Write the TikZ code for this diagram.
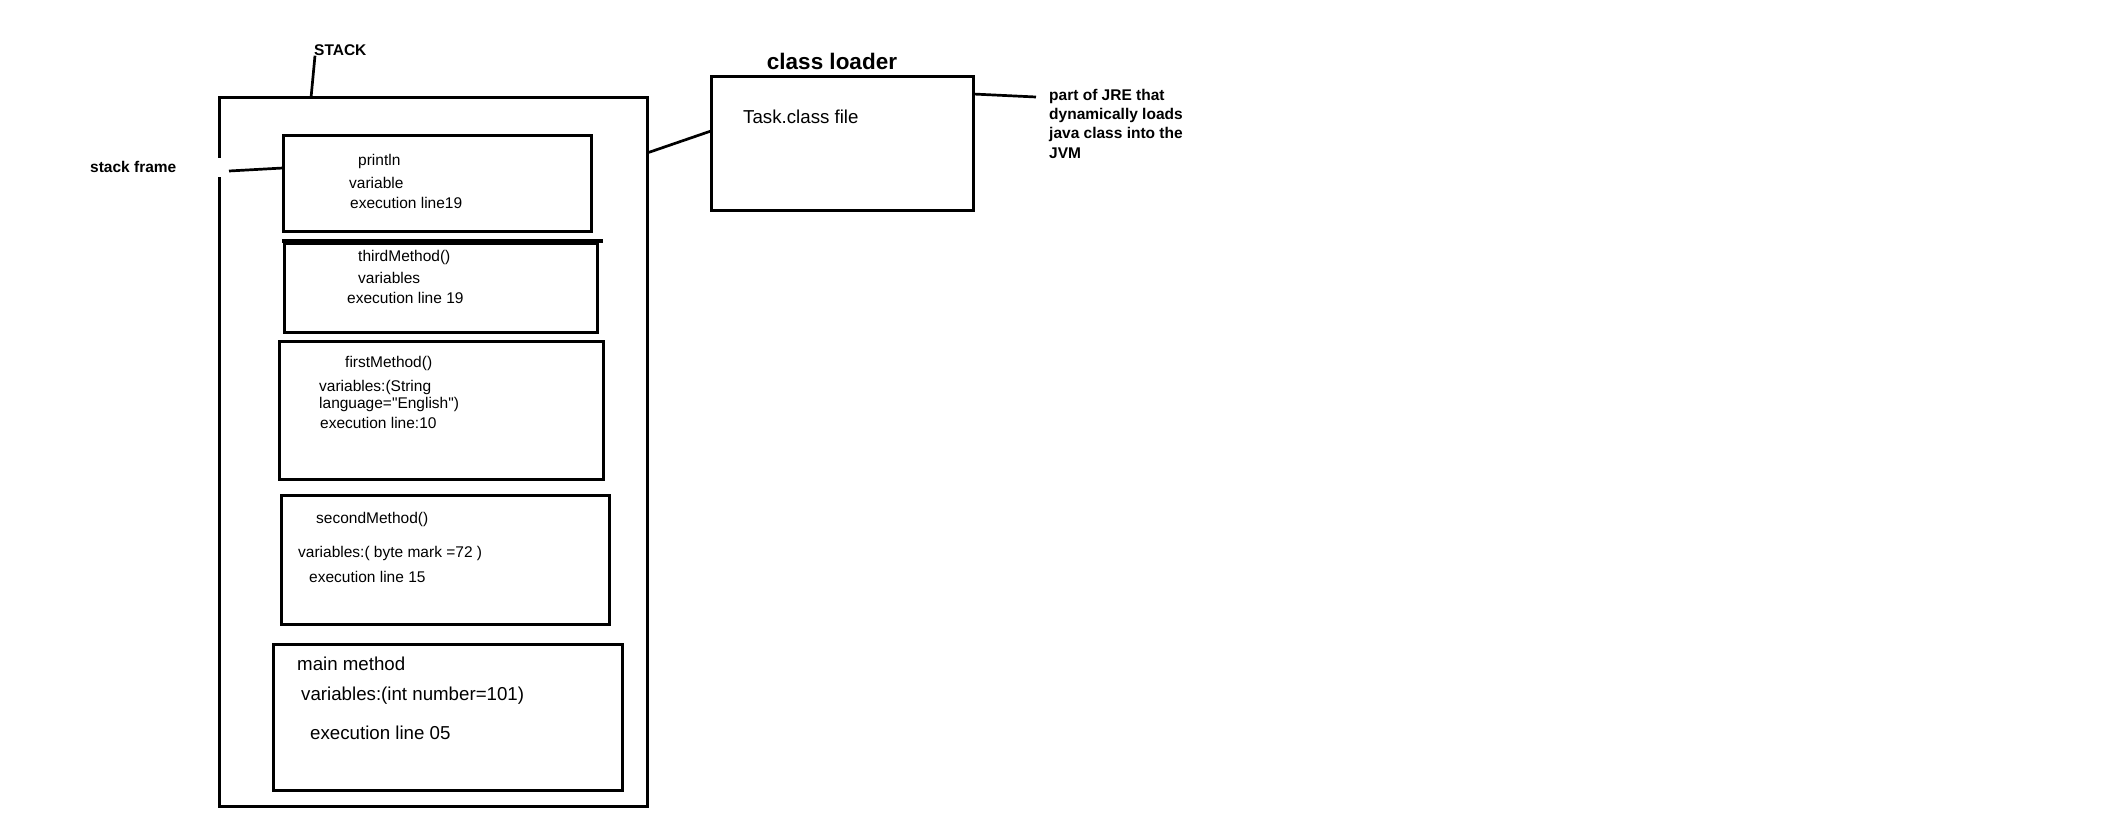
\documentclass[tikz,border=0pt]{standalone}
\usepackage{fontspec}
\setmainfont{Liberation Sans}

\tikzstyle{frame}=[draw, line width=3pt, anchor=north west, inner sep=0pt, outer sep=0pt]
\tikzstyle{txt}=[anchor=west, inner sep=0pt, font=\fontsize{15.5}{18}\selectfont]
\tikzstyle{bigtxt}=[anchor=west, inner sep=0pt, font=\fontsize{18.7}{22}\selectfont]
\tikzstyle{lbl}=[anchor=west, inner sep=0pt, font=\bfseries\fontsize{15.5}{19}\selectfont]
\tikzstyle{link}=[line width=2.7pt]

\begin{document}
\begin{tikzpicture}[x=1pt, y=-1pt]
  \useasboundingbox (0,0) rectangle (2110,840);
  % stack with its frames
  \node[frame, minimum width=428pt, minimum height=708pt] (stack) at (219,98) {};
  \node[frame, minimum width=308pt, minimum height=95pt] (println) at (283,136) {};
  \node[frame, minimum width=313pt, minimum height=89pt] (third) at (284,243) {};
  \node[frame, minimum width=324pt, minimum height=138pt] (first) at (279,341) {};
  \node[frame, minimum width=328pt, minimum height=129pt] (second) at (281,495) {};
  \node[frame, minimum width=349pt, minimum height=146pt] (mainm) at (273,644) {};
  \fill[white] (214,158) rectangle (224,177);
  \draw[link, line width=3.2pt] ([xshift=-2pt, yshift=2pt]third.north west) -- ([xshift=6pt, yshift=2pt]third.north east);

  \foreach \x/\y/\t [count=\i] in {358/161/println, 349/183/variable, 350/203/execution line19} {%
    \node[txt] (println\i) at (\x,\y) {\t};
  }
  \foreach \x/\y/\t [count=\i] in {358/257/thirdMethod(), 358/278/variables, 347/298/execution line 19} {%
    \node[txt] (third\i) at (\x,\y) {\t};
  }
  \foreach \x/\y/\t [count=\i] in {345/363/firstMethod(), 319/387/variables:(String, 319/404/language=\textquotedbl English\textquotedbl), 320/423/execution line:10} {%
    \node[txt] (first\i) at (\x,\y) {\t};
  }
  \foreach \x/\y/\t [count=\i] in {316/519/secondMethod(), 298/553/variables:( byte mark =72 ), 309/577/execution line 15} {%
    \node[txt] (second\i) at (\x,\y) {\t};
  }
  \foreach \x/\y/\t [count=\i] in {297/664/main method, 301/696/variables:(int number=101), 310/733/execution line 05} {%
    \node[bigtxt] (mainm\i) at (\x,\y) {\t};
  }

  % labels of the stack
  \node[lbl] (stacklbl) at (314,50) {STACK};
  \node[lbl] (framelbl) at (90,167) {stack frame};
  \coordinate (stacktop) at (311,98);
  \coordinate (frameend) at (229,171);
  \draw[link] ([xshift=1pt]stacklbl.south west) -- (stacktop);
  \draw[link] (frameend) -- ([yshift=-32pt]println.north west);

  % class loader
  \node[frame, minimum width=262pt, minimum height=133pt] (loader) at (711,77) {};
  \node[font=\bfseries\fontsize{22.5}{26}\selectfont, inner sep=0pt] (loaderlbl) at (832,61) {class loader};
  \node[bigtxt] (taskfile) at (743,117) {Task.class file};
  \foreach \l [count=\i] in {part of JRE that, dynamically loads, java class into the, JVM} {%
    \node[lbl] (note\i) at (1049,77+19*\i) {\l};
  }
  \draw[link] ([yshift=-55pt]stack.north east) -- ([yshift=-54pt]loader.north west);
  \draw[link] ([yshift=-17pt]loader.north east) -- ([xshift=-13pt, yshift=-1pt]note1.west);
\end{tikzpicture}
\end{document}
